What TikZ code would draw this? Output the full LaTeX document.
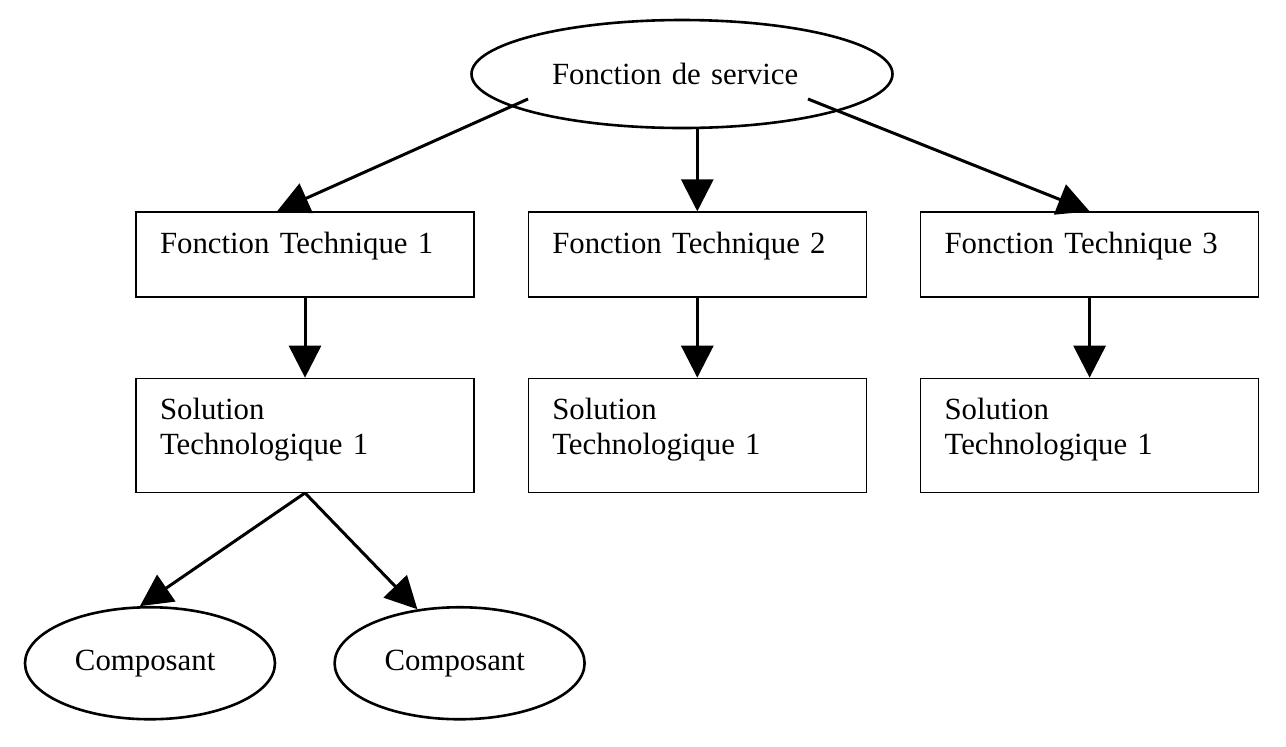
\documentclass[tikz,border=0pt]{standalone}
\usepackage{fontspec}
\setmainfont{Liberation Serif}
\usetikzlibrary{arrows.meta,calc,positioning,shapes.geometric}

\begin{document}
\begin{tikzpicture}[x=0.5pt, y=-0.5pt, node distance=26.5pt,
    font=\fontsize{15.4pt}{17.5pt}\selectfont,
    box/.style={draw, line width=0.65pt, text width=145pt, inner xsep=12pt,
      inner ysep=0pt, align=left, text height=20.5pt},
    ftbox/.style={box, text depth=22pt},
    stbox/.style={box, text depth=36.5pt},
    oval/.style={ellipse, draw, line width=1.3pt, align=left}]
  \useasboundingbox (0,0) rectangle (1286,746);
  % service function and technical functions
  \node (serv) [oval, minimum width=210.5pt, minimum height=54pt, text width=130pt]
    at (682,74) {Fonction de service};
  \node (ft1) [ftbox] at (305,254.5) {Fonction Technique 1};
  \node (ft2) [ftbox, right=of ft1] {Fonction Technique 2};
  \node (ft3) [ftbox, right=of ft2] {Fonction Technique 3};
  % technological solutions
  \node (st1) [stbox, below=40pt of ft1] {Solution\\Technologique 1};
  \node (st2) [stbox, below=40pt of ft2] {Solution\\Technologique 1};
  \node (st3) [stbox, below=40pt of ft3] {Solution\\Technologique 1};
  % components
  \node (c1) [oval, minimum width=125pt, minimum height=56pt, text width=75pt,
    below=56.5pt of st1.south, xshift=-77.5pt] {Composant};
  \node (c2) [oval, minimum width=125pt, minimum height=56pt, text width=75pt,
    right=28.5pt of c1] {Composant};
  \coordinate (sl) at ($(serv)+(-154,25)$);
  \coordinate (sr) at ($(serv)+(126,25)$);
  \begin{scope}
    [every edge/.style={draw, line width=1.5pt, -{Triangle[length=16pt,width=16pt]}}]
    \path (sl) edge ([xshift=-14pt]ft1.north);
    \path (serv.south -| ft2.north) edge (ft2.north);
    \path (sr) edge (ft3.north);
    \path (ft1.south) edge (st1.north);
    \path (ft2.south) edge (st2.north);
    \path (ft3.south) edge (st3.north);
    \path (st1.south) edge (c1.100);
    \path (st1.south) edge (c2.128);
  \end{scope}
\end{tikzpicture}
\end{document}
